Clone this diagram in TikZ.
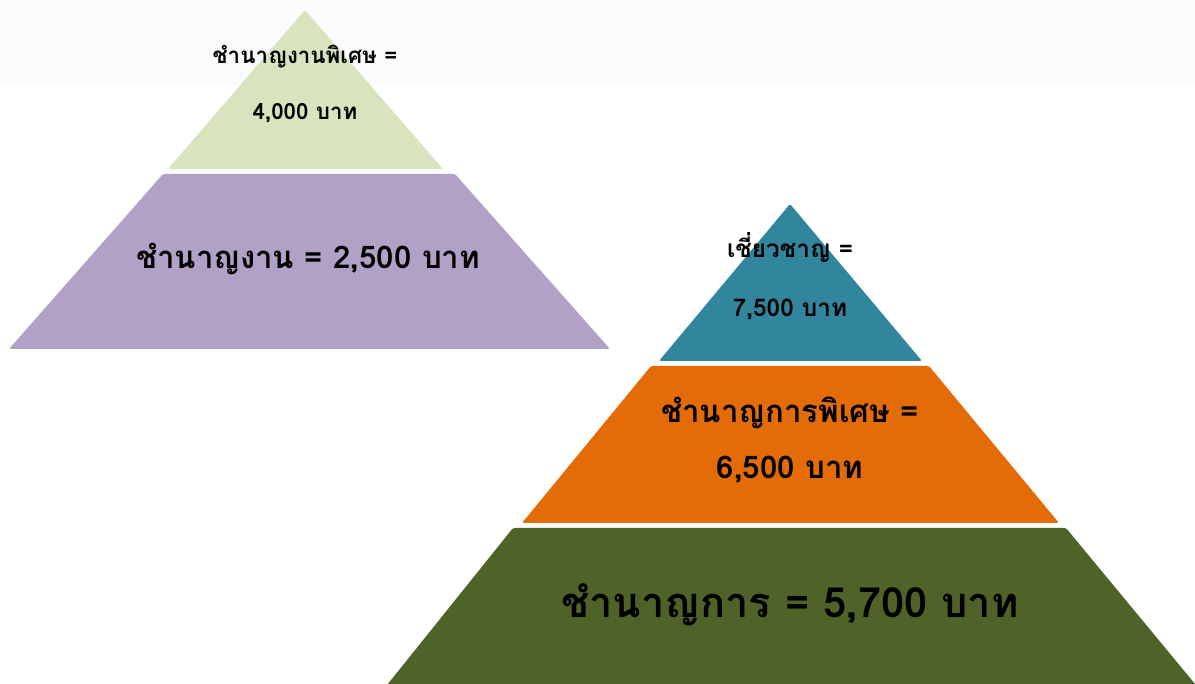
\documentclass[tikz,border=0pt]{standalone}
\usepackage{fontspec}
\newfontfamily\thaifont[Script=Thai]{Loma}
\definecolor{lgreen}{HTML}{D7E4BD}
\definecolor{lpurple}{HTML}{B2A1C7}
\definecolor{teal2}{HTML}{31859C}
\definecolor{orange2}{HTML}{E36C09}
\definecolor{olive2}{HTML}{4F6228}
\definecolor{topband}{HTML}{FBFBFB}
\begin{document}
\begin{tikzpicture}[x=1pt,y=-1pt,
  lvl/.style={rounded corners=1.5pt},
  lbl/.style={inner sep=0pt,text=black}]
\useasboundingbox (0,0) rectangle (1195,684);
\fill[topband] (0,0) rectangle (1195,85);
% left pyramid
\fill[lvl,lgreen] (305,10) -- (443,169) -- (168,169) -- cycle;
\fill[lvl,lpurple] (163,174) -- (455,174) -- (610,349) -- (9,349) -- cycle;
% right pyramid
\fill[lvl,teal2] (790,204) -- (922,361) -- (659,361) -- cycle;
\fill[lvl,orange2] (651,366) -- (929,366) -- (1059,523) -- (522,523) -- cycle;
\fill[lvl,olive2] (513,528) -- (1066,528) -- (1200,690) -- (383,690) -- cycle;
% labels
\node[lbl,font=\thaifont\bfseries\fontsize{22.3}{26}\selectfont] (a1) at (305,57) {ชำนาญงานพิเศษ =};
\node[lbl,font=\thaifont\bfseries\fontsize{22.3}{26}\selectfont] (a2) at (305,113) {4,000 บาท};
\node[lbl,font=\thaifont\bfseries\fontsize{31.2}{36}\selectfont] (b1) at (308,259) {ชำนาญงาน = 2,500 บาท};
\node[lbl,font=\thaifont\bfseries\fontsize{24.3}{28}\selectfont] (c1) at (790,247) {เชี่ยวชาญ =};
\node[lbl,font=\thaifont\bfseries\fontsize{24.3}{28}\selectfont] (c2) at (790,310) {7,500 บาท};
\node[lbl,font=\thaifont\bfseries\fontsize{31.2}{36}\selectfont] (d1) at (790,413) {ชำนาญการพิเศษ =};
\node[lbl,font=\thaifont\bfseries\fontsize{31.2}{36}\selectfont] (d2) at (790,470) {6,500 บาท};
\node[lbl,font=\thaifont\bfseries\fontsize{41.6}{48}\selectfont] (e1) at (790,605) {ชำนาญการ = 5,700 บาท};
\end{tikzpicture}
\end{document}
